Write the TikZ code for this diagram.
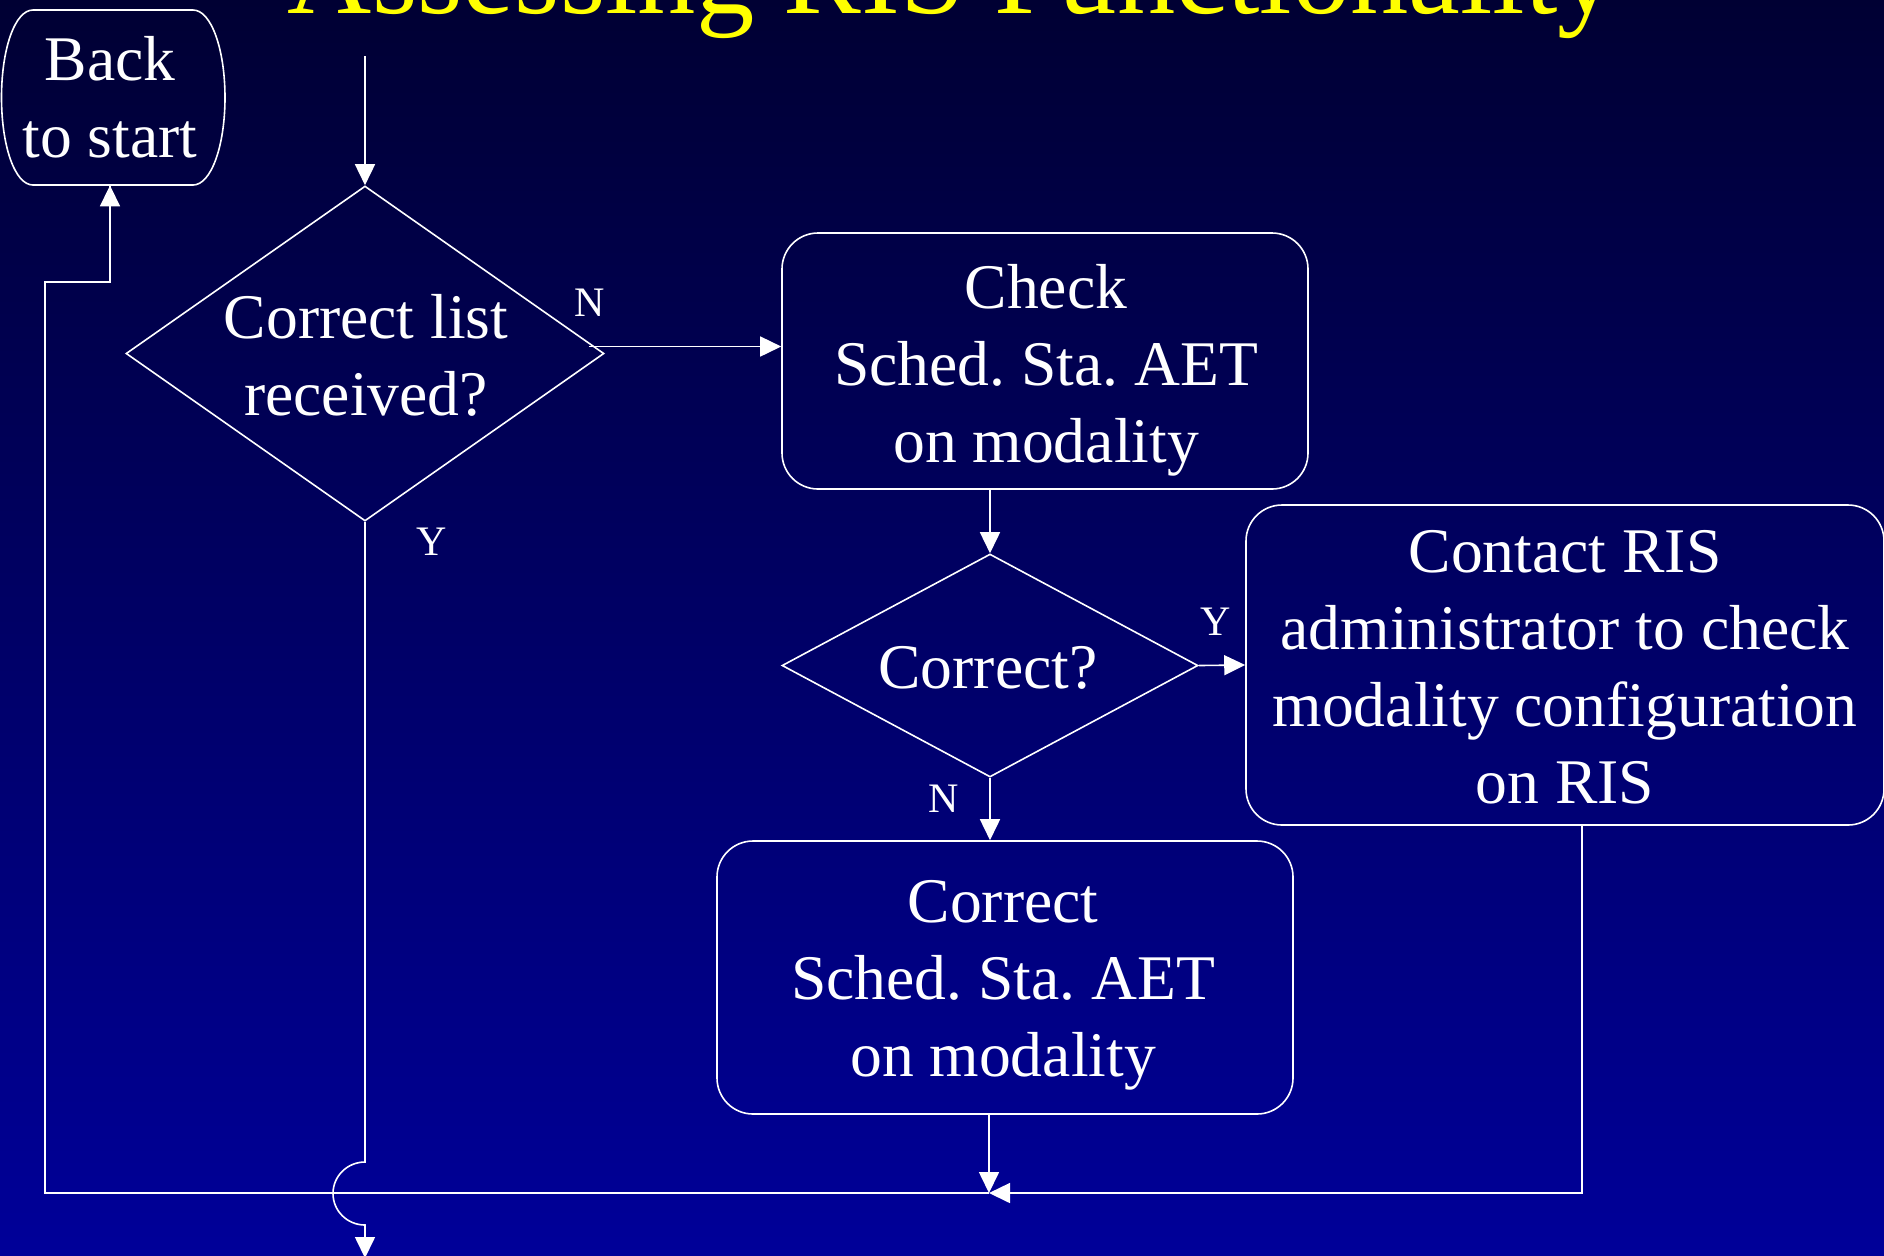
\documentclass[tikz,border=0pt]{standalone}
\usepackage{fontspec}
\setmainfont{Liberation Serif}
\usetikzlibrary{arrows.meta,shapes.geometric,calc}
\definecolor{bgtop}{RGB}{0,0,51}
\definecolor{bgbottom}{RGB}{0,0,153}
\definecolor{titleyellow}{RGB}{255,255,0}
\frenchspacing
\begin{document}
\begin{tikzpicture}[x=0.5pt,y=-0.5pt,
  line/.style={draw=white,line width=0.8pt},
  arr/.style={line,-{Triangle[length=10.5pt,width=10pt]}},
  body/.style={text=white,font=\fontsize{31.8pt}{38.5pt}\selectfont\frenchspacing,align=center,inner sep=0pt},
  tag/.style={text=white,font=\fontsize{21pt}{25pt}\selectfont,inner sep=0pt,anchor=base},
  decision/.style={diamond,line,inner sep=0pt},
  process/.style={rectangle,line,rounded corners=18pt,inner sep=0pt},
]
\useasboundingbox (0,0) rectangle (1884,1255);
\clip (0,0) rectangle (1884,1255);
\shade[top color=bgtop,bottom color=bgbottom] (0,0) rectangle (1884,1255);

% title
\node[anchor=base,text=titleyellow,font=\fontsize{58.3pt}{70pt}\selectfont,inner sep=0pt]
  (title) at (952,13) {Assessing RIS Functionality};

% terminator "Back to start"
\draw[line] (33,10) -- (193,10)
  .. controls (211.2,10) and (225,49.2) .. (225,97.5)
  .. controls (225,145.8) and (211.2,185) .. (193,185) -- (33,185)
  .. controls (14.8,185) and (1.5,145.8) .. (1.5,97.5)
  .. controls (1.5,49.2) and (14.8,10) .. cycle;
\node[body,minimum width=110pt,minimum height=87.5pt] (back) at (110,97.5) {Back\\to start};

% decisions
\node[decision,minimum width=239pt,minimum height=167.5pt] (d1) at (365,353.5) {};
\node[body] (d1t) at (366,355) {Correct list\\received?};
\node[decision,minimum width=208pt,minimum height=111.5pt] (d2) at (990,665.5) {};
\node[body,anchor=base] (d2t) at (988,688) {Correct?};

% process boxes
\node[process,minimum width=263pt,minimum height=128pt] (check) at (1045,361) {};
\node[body] (checkt) at (1046,370) {Check\\Sched. Sta. AET\\on modality};
\node[process,minimum width=288pt,minimum height=136.5pt] (fix) at (1005,977.5) {};
\node[body] (fixt) at (1003,985.5) {Correct\\Sched. Sta. AET\\on modality};
\node[process,minimum width=319pt,minimum height=160pt] (contact) at (1565,665) {};
\node[body] (contactt) at (1565,667.5) {Contact RIS\\administrator to check\\modality configuration\\on RIS};

% branch labels
\node[tag] (n1) at (590,316) {N};
\node[tag] (y1) at (432,555) {Y};
\node[tag] (y2) at (1216,635) {Y};
\node[tag] (n2) at (944,812) {N};

% routing points
\coordinate (entry) at (365,56);
\coordinate (nstart) at ($(d1.east)+(-16,-7)$);
\coordinate (join) at (989,1193);
\coordinate (rail) at (1582,1193);
\coordinate (loopL) at (45,282);
\coordinate (hop1) at (365,1162);
\coordinate (hop2) at (365,1225);
\coordinate (exit) at (365,1258);

% connectors
\draw[arr] (entry) -- (d1.north);
\draw[arr] (nstart) -- (nstart -| check.west);
\draw[arr] (check.south -| d2.north) -- (d2.north);
\draw[arr] (d2.east) -- (contact.west);
\draw[arr] (d2.south) -- (d2.south |- fix.north);
\draw[line] (join) -| (loopL) -| (back.south);
\draw[arr] (loopL -| back.south) -- (back.south);
\draw[arr] (fix.south -| join) -- (join);
\draw[arr] (rail |- contact.south) |- (join);
\draw[arr] (d1.south) -- (hop1)
  .. controls (347.3,1162) and (333,1176.1) .. (333,1193.5)
  .. controls (333,1210.9) and (347.3,1225) .. (hop2) -- (exit);
\end{tikzpicture}
\end{document}
